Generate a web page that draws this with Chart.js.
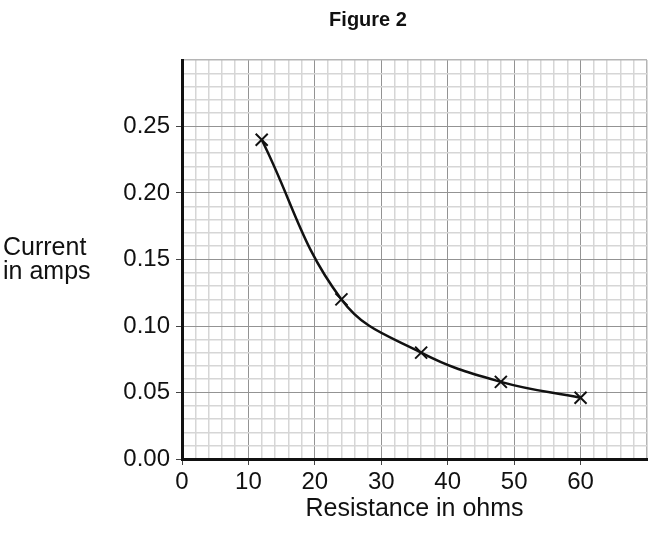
<!DOCTYPE html>
<html><head><meta charset="utf-8">
<script src="https://cdn.jsdelivr.net/npm/chart.js@4/dist/chart.umd.min.js"></script>
<style>html,body{margin:0;padding:0;background:#fff}#wrap{width:648px;height:534px;position:relative}</style>
</head><body><div id="wrap"><canvas id="c" width="648" height="534"></canvas></div>
<script>
const titleText = 'Figure 2';
const xTitle = 'Resistance in ohms';
const yTitleLines = ['Current', 'in amps'];
const resistance = [12, 24, 36, 48, 60];
const current = [0.24, 0.12, 0.08, 0.058, 0.046];
const xTickLabels = [0, 10, 20, 30, 40, 50, 60];
const yTickLabels = ['0.00', '0.05', '0.10', '0.15', '0.20', '0.25'];

const FONT = '"Liberation Sans", Arial, Helvetica, sans-serif';

const isMajorX = v => Math.round(v) % 10 === 0;
const isMajorY = v => Math.round(v * 100) % 5 === 0;

const textPlugin = {
  id: 'texts',
  afterDraw(chart) {
    const ctx = chart.ctx;
    ctx.save();
    ctx.fillStyle = '#111';
    ctx.font = 'bold 20px ' + FONT;
    ctx.textAlign = 'center';
    ctx.textBaseline = 'alphabetic';
    ctx.fillText(titleText, 368, 26);
    ctx.font = '25px ' + FONT;
    ctx.textAlign = 'left';
    yTitleLines.forEach((t, i) => ctx.fillText(t, 3, 255 + i * 24));
    ctx.restore();
  }
};

const gridColorX = c => {
  const v = c.tick.value;
  if (v === 0) return '#111';
  if (v >= 70) return '#b5b5b5';
  return isMajorX(v) ? '#939393' : '#d6d6d6';
};
const gridColorY = c => {
  const v = c.tick.value;
  if (v === 0) return '#111';
  if (v > 0.295) return '#b5b5b5';
  return isMajorY(v) ? '#939393' : '#d6d6d6';
};

new Chart(document.getElementById('c'), {
  type: 'line',
  data: {
    datasets: [{
      data: resistance.map((r, i) => ({x: r, y: current[i]})),
      borderColor: '#111',
      borderWidth: 2.5,
      tension: 0.4,
      pointStyle: 'crossRot',
      pointRadius: 8.5,
      pointBorderWidth: 2,
      pointBorderColor: '#111',
      pointBackgroundColor: '#111',
      fill: false,
      clip: false
    }]
  },
  options: {
    responsive: false,
    animation: false,
    devicePixelRatio: 1,
    layout: {autoPadding: false, padding: {top: 60, right: 1, left: 0, bottom: 0}},
    plugins: {legend: {display: false}, title: {display: false}, tooltip: {enabled: false}},
    scales: {
      x: {
        type: 'linear', min: 0, max: 70,
        afterFit: s => { s.height = 75; s.paddingRight = 0; s.paddingLeft = 0; },
        ticks: {
          stepSize: 2, autoSkip: false, maxRotation: 0, padding: 3,
          color: '#111', font: {family: FONT, size: 24},
          callback: v => (isMajorX(v) && xTickLabels.includes(Math.round(v))) ? String(Math.round(v)) : ''
        },
        grid: {
          color: gridColorX,
          lineWidth: c => (isMajorX(c.tick.value) && c.tick.value < 70) ? 1 : 1.5,
          tickLength: 6,
          tickColor: c => (isMajorX(c.tick.value) && c.tick.value <= 60) ? '#444' : 'rgba(0,0,0,0)'
        },
        border: {display: true, color: '#111', width: 3},
        title: {display: true, text: xTitle, color: '#111', font: {family: FONT, size: 25}, padding: {top: 2, bottom: 10}}
      },
      y: {
        type: 'linear', min: 0, max: 0.30,
        afterFit: s => { s.width = 182; },
        ticks: {
          stepSize: 0.01, autoSkip: false, padding: 6,
          color: '#111', font: {family: FONT, size: 24},
          callback: v => {
            const k = Math.round(v * 100);
            if (k % 5 !== 0) return '';
            const lbl = (k / 100).toFixed(2);
            return yTickLabels.includes(lbl) ? lbl : '';
          }
        },
        grid: {
          color: gridColorY,
          lineWidth: c => (isMajorY(c.tick.value) && c.tick.value < 0.295) ? 1 : 1.5,
          tickLength: 6,
          tickColor: c => (isMajorY(c.tick.value) && c.tick.value < 0.29) ? '#444' : 'rgba(0,0,0,0)'
        },
        border: {display: true, color: '#111', width: 3}
      }
    }
  },
  plugins: [textPlugin]
});
</script>
</body></html>
